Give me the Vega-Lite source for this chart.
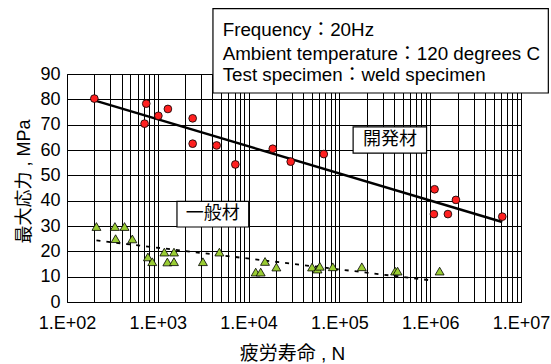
{
  "$schema": "https://vega.github.io/schema/vega-lite/v6.json",
  "width": 454,
  "height": 228,
  "autosize": {"type": "none"},
  "padding": {"left": 67, "top": 74, "right": 30, "bottom": 62},
  "background": "white",
  "config": {
    "view": {"stroke": "black", "strokeWidth": 1},
    "font": "Liberation Sans, Noto Sans CJK JP"
  },
  "datasets": {
    "developed": [
      {"N": 200, "S": 80.3},
      {"N": 746, "S": 78.3},
      {"N": 715, "S": 70.4},
      {"N": 1014, "S": 73.5},
      {"N": 1292, "S": 76.2},
      {"N": 2421, "S": 72.5},
      {"N": 2421, "S": 62.5},
      {"N": 4446, "S": 61.8},
      {"N": 7145, "S": 54.3},
      {"N": 18450, "S": 60.5},
      {"N": 29100, "S": 55.4},
      {"N": 67300, "S": 58.4},
      {"N": 1117000, "S": 44.5},
      {"N": 1098000, "S": 34.7},
      {"N": 1567000, "S": 34.7},
      {"N": 1920000, "S": 40.3},
      {"N": 6220000, "S": 33.7}
    ],
    "general": [
      {"N": 211, "S": 29.8},
      {"N": 337, "S": 29.8},
      {"N": 430, "S": 29.8},
      {"N": 343, "S": 25.0},
      {"N": 524, "S": 24.9},
      {"N": 778, "S": 17.8},
      {"N": 869, "S": 15.9},
      {"N": 1180, "S": 19.7},
      {"N": 1274, "S": 15.8},
      {"N": 1507, "S": 19.7},
      {"N": 1507, "S": 15.9},
      {"N": 3140, "S": 15.9},
      {"N": 4766, "S": 19.7},
      {"N": 11970, "S": 11.8},
      {"N": 13590, "S": 11.8},
      {"N": 15170, "S": 16.0},
      {"N": 20230, "S": 13.8},
      {"N": 50000, "S": 13.8},
      {"N": 57400, "S": 13.0},
      {"N": 60800, "S": 14.1},
      {"N": 84600, "S": 13.9},
      {"N": 176600, "S": 13.9},
      {"N": 411000, "S": 12.2},
      {"N": 437000, "S": 12.2},
      {"N": 1270000, "S": 12.2}
    ],
    "developedFit": [
      {"N": 200, "S": 79.6},
      {"N": 6220000, "S": 31.6}
    ],
    "generalFit": [
      {"N": 211, "S": 24.3},
      {"N": 1050000, "S": 8.5}
    ],
    "boxes": [
      {"N": 4050, "N2": 20000000, "S": 115.8, "S2": 82.5},
      {"N": 141600, "N2": 912000, "S": 69.1, "S2": 58.8},
      {"N": 1626, "N2": 10030, "S": 39.7, "S2": 29.6}
    ],
    "conditions": [
      {"N": 5180, "S": 104.9, "t": "Frequency：20Hz"},
      {"N": 5180, "S": 95.7, "t": "Ambient temperature：120 degrees C"},
      {"N": 5180, "S": 87.1, "t": "Test specimen：weld specimen"}
    ],
    "materials": [
      {"N": 359700, "S": 64.1, "t": "開発材"},
      {"N": 4018, "S": 34.7, "t": "一般材"}
    ]
  },
  "layer": [
    {
      "data": {"name": "generalFit"},
      "mark": {"type": "line", "color": "black", "strokeWidth": 1.8, "strokeDash": [4, 6], "clip": false},
      "encoding": {
        "x": {
          "field": "N",
          "type": "quantitative",
          "scale": {"type": "log", "domain": [100, 10000000], "nice": false},
          "axis": {
            "title": "疲労寿命 , N",
            "values": [100, 200, 300, 400, 500, 600, 700, 800, 900,
                       1000, 2000, 3000, 4000, 5000, 6000, 7000, 8000, 9000,
                       10000, 20000, 30000, 40000, 50000, 60000, 70000, 80000, 90000,
                       100000, 200000, 300000, 400000, 500000, 600000, 700000, 800000, 900000,
                       1000000, 2000000, 3000000, 4000000, 5000000, 6000000, 7000000, 8000000, 9000000,
                       10000000],
            "labelExpr": "abs(log(datum.value) / LN10 - round(log(datum.value) / LN10)) < 0.000001 ? '1.E+0' + round(log(datum.value) / LN10) : ''",
            "labelOverlap": false,
            "labelFlush": false,
            "grid": true,
            "gridColor": "black",
            "gridOpacity": 1,
            "gridWidth": 1,
            "ticks": false,
            "domain": false,
            "labelFontSize": 18,
            "labelColor": "black",
            "labelPadding": 12,
            "titleFontSize": 19,
            "titleFontWeight": "normal",
            "titleColor": "black",
            "titleAlign": "center",
            "titleBaseline": "alphabetic",
            "titleX": 225,
            "titleY": 57
          }
        },
        "y": {
          "field": "S",
          "type": "quantitative",
          "scale": {"domain": [0, 90], "nice": false},
          "axis": {
            "title": "最大応力 , MPa",
            "values": [0, 10, 20, 30, 40, 50, 60, 70, 80, 90],
            "tickCount": 10,
            "labelOverlap": false,
            "labelFlush": false,
            "grid": true,
            "gridColor": "black",
            "gridOpacity": 1,
            "gridWidth": 1,
            "ticks": false,
            "domain": false,
            "labelFontSize": 18,
            "labelColor": "black",
            "labelPadding": 7,
            "titleFontSize": 18,
            "titleFontWeight": "normal",
            "titleColor": "black",
            "titleAngle": -90,
            "titleAlign": "center",
            "titleBaseline": "alphabetic",
            "titleX": -38,
            "titleY": 107
          }
        }
      }
    },
    {
      "data": {"name": "developedFit"},
      "mark": {"type": "line", "color": "black", "strokeWidth": 2.5, "clip": false},
      "encoding": {
        "x": {"field": "N", "type": "quantitative"},
        "y": {"field": "S", "type": "quantitative"}
      }
    },
    {
      "data": {"name": "general"},
      "mark": {"type": "point", "shape": "triangle-up", "filled": true, "fill": "#99cc33", "stroke": "black", "strokeWidth": 0.8, "size": 80, "opacity": 1},
      "encoding": {
        "x": {"field": "N", "type": "quantitative"},
        "y": {"field": "S", "type": "quantitative"}
      }
    },
    {
      "data": {"name": "developed"},
      "mark": {"type": "point", "shape": "circle", "filled": true, "fill": "#ff2020", "stroke": "black", "strokeWidth": 0.8, "size": 60, "opacity": 1},
      "encoding": {
        "x": {"field": "N", "type": "quantitative"},
        "y": {"field": "S", "type": "quantitative"}
      }
    },
    {
      "data": {"name": "boxes"},
      "mark": {"type": "rect", "fill": "white", "stroke": "black", "strokeWidth": 1.2, "clip": false},
      "encoding": {
        "x": {"field": "N", "type": "quantitative"},
        "x2": {"field": "N2"},
        "y": {"field": "S", "type": "quantitative"},
        "y2": {"field": "S2"}
      }
    },
    {
      "data": {"name": "conditions"},
      "mark": {"type": "text", "align": "left", "baseline": "alphabetic", "fontSize": 18.8, "color": "black", "clip": false},
      "encoding": {
        "x": {"field": "N", "type": "quantitative"},
        "y": {"field": "S", "type": "quantitative"},
        "text": {"field": "t"}
      }
    },
    {
      "data": {"name": "materials"},
      "mark": {"type": "text", "align": "center", "baseline": "middle", "fontSize": 18, "font": "Noto Sans CJK JP", "color": "black"},
      "encoding": {
        "x": {"field": "N", "type": "quantitative"},
        "y": {"field": "S", "type": "quantitative"},
        "text": {"field": "t"}
      }
    }
  ]
}
